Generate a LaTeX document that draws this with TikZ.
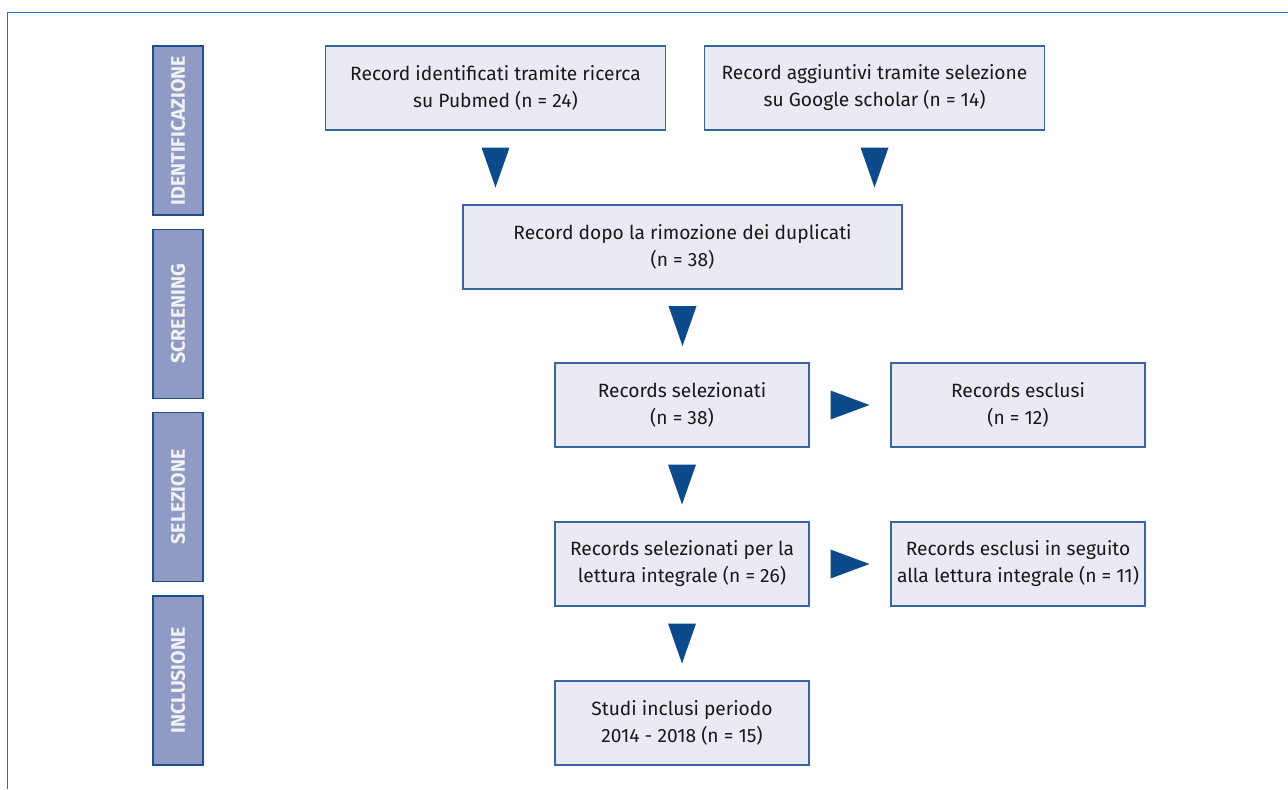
\documentclass[tikz,border=0pt]{standalone}
\usepackage{fontspec}
\setmainfont{Fira Sans}
\usetikzlibrary{calc}
\definecolor{frameblue}{HTML}{2F6DB0}
\definecolor{boxline}{HTML}{3A66A0}
\definecolor{boxfill}{HTML}{E9EAF4}
\definecolor{phaseline}{HTML}{1F4E8C}
\definecolor{phasefill}{HTML}{8F9BC5}
\definecolor{tridark}{HTML}{0D4A8C}
\tikzset{
	box/.style={draw=boxline,fill=boxfill,line width=0.7pt,align=center,minimum height=42pt,inner sep=0pt,text=black!90,font=\fontsize{9.6}{13.5}\selectfont},
	phase/.style={draw=phaseline,fill=phasefill,line width=0.8pt,rotate=90,minimum width=84.5pt,minimum height=25pt,inner sep=0pt,text=white!95!black,font=\bfseries\fontsize{9.8}{11}\selectfont},
	tri/.style={fill=tridark}
}
\begin{document}
\begin{tikzpicture}[x=0.5pt,y=-0.5pt]
			\useasboundingbox (0,0) rectangle (1288,789);
			%FRAME
			\draw[frameblue,line width=0.8pt] (7.5,789) -- (7.5,12.5) -- (1288,12.5);
			%PHASES
			\node[phase] (ident) at (178,130.5) {IDENTIFICAZIONE};
			\node[phase] (screen) at (178,314) {SCREENING};
			\node[phase] (selez) at (178,497) {SELEZIONE};
			\node[phase] (inclu) at (178,680.5) {INCLUSIONE};
			%BOXES
			\node[box,minimum width=170pt] (rec1) at (495.5,88) {Record identificati tramite ricerca\\su Pubmed (n = 24)};
			\node[box,minimum width=170pt] (rec2) at (874.5,88) {Record aggiuntivi tramite selezione\\su Google scholar (n = 14)};
			\node[box,minimum width=219.5pt] (dup) at (682.5,247) {Record dopo la rimozione dei duplicati\\(n = 38)};
			\node[box,minimum width=127pt] (sel) at (682,405) {Records selezionati\\(n = 38)};
			\node[box,minimum width=127pt] (excl) at (1018,405) {Records esclusi\\(n = 12)};
			\node[box,minimum width=127pt] (full) at (682,564) {Records selezionati per la\\lettura integrale (n = 26)};
			\node[box,minimum width=127pt] (excl2) at (1018,564) {Records esclusi in seguito\\alla lettura integrale (n = 11)};
			\node[box,minimum width=127pt] (incl) at (682,723) {Studi inclusi periodo\\2014 - 2018 (n = 15)};
			%ARROWS
			\foreach \a/\b in {rec1/dup,rec2/dup,dup/sel,sel/full,full/incl}
			\fill[tri] ($(\a.south)!.5!(\a.south|-\b.north)$) ++(-14,-20) -- ++(28,0) -- ++(-14,40) -- cycle;
			\foreach \a/\b in {sel/excl,full/excl2}
			\fill[tri] ($(\a.east)!.5!(\b.west)$) ++(-19.5,-14.5) -- ++(0,29) -- ++(39,-14.5) -- cycle;
		\end{tikzpicture}
\end{document}
